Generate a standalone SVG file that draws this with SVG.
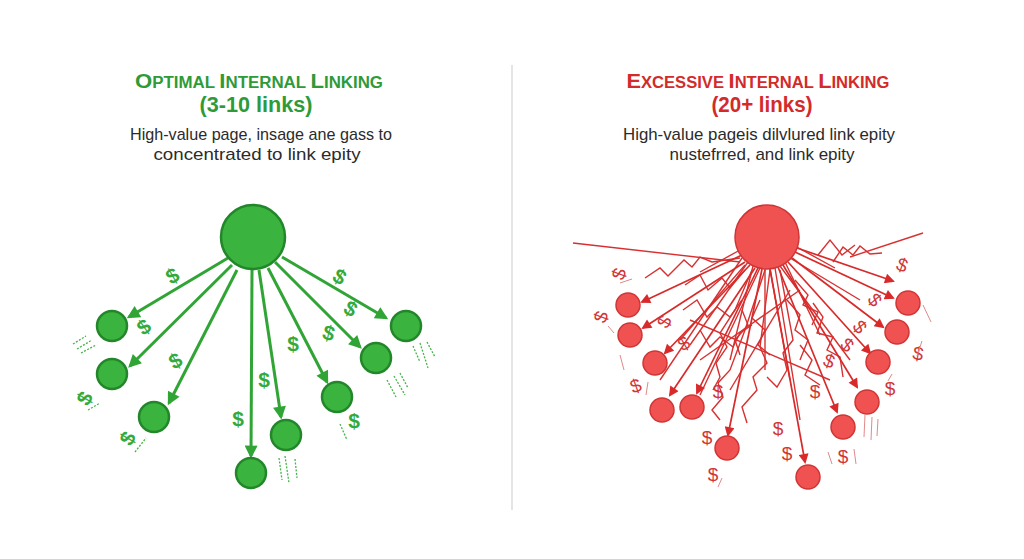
<svg xmlns="http://www.w3.org/2000/svg" width="1024" height="559" viewBox="0 0 1024 559">
<defs>
<marker id="ag" viewBox="0 0 10 10" refX="8" refY="5" markerUnits="userSpaceOnUse" markerWidth="15" markerHeight="13" orient="auto"><path d="M0,0 L10,5 L0,10 z" fill="#30a535"/></marker>
<marker id="ar" viewBox="0 0 10 10" refX="8" refY="5" markerUnits="userSpaceOnUse" markerWidth="12" markerHeight="10" orient="auto"><path d="M0,0 L10,5 L0,10 z" fill="#d82a2a"/></marker>
<style>
.tg{font-family:"Liberation Sans",Arial,sans-serif;font-weight:bold;fill:#2f9a38}
.tr{font-family:"Liberation Sans",Arial,sans-serif;font-weight:bold;fill:#d32a2a}
.sub{font-family:"Liberation Sans",Arial,sans-serif;font-size:17px;fill:#2b2b2b}
.gn{fill:#3bb33f;stroke:#22872a;stroke-width:2.5}
.rn{fill:#f05252;stroke:#d03535;stroke-width:1.5}
.ga{stroke:#30a535;stroke-width:3;fill:none;marker-end:url(#ag)}
.ra{stroke:#d82a2a;stroke-width:1.7;fill:none;marker-end:url(#ar)}
.rl{stroke:#d83030;stroke-width:1.4;fill:none;stroke-linejoin:miter}
.gd{font-family:"Liberation Sans",Arial,sans-serif;font-weight:bold;font-size:21px;fill:#33aa3a}
.rd{font-family:"Liberation Sans",Arial,sans-serif;font-size:19px;fill:#d23535}
.gs{stroke:#45b548;stroke-width:1.3;stroke-dasharray:2 1.5;fill:none}
.rs{stroke:#e08a8a;stroke-width:1;fill:none}
</style>
</defs>
<rect width="1024" height="559" fill="#ffffff"/>
<line x1="512" y1="65" x2="512" y2="510" stroke="#dddddd" stroke-width="1.5"/>

<g id="titles">
<text class="tg" x="259" y="88" text-anchor="middle" textLength="248" lengthAdjust="spacingAndGlyphs"><tspan font-size="21">O</tspan><tspan font-size="16">PTIMAL </tspan><tspan font-size="21">I</tspan><tspan font-size="16">NTERNAL </tspan><tspan font-size="21">L</tspan><tspan font-size="16">INKING</tspan></text>
<text class="tg" x="256" y="112" text-anchor="middle" font-size="22" textLength="113" lengthAdjust="spacingAndGlyphs">(3-10 links)</text>
<text class="sub" x="261" y="140" text-anchor="middle" textLength="262" lengthAdjust="spacingAndGlyphs">High-value page, insage ane gass to</text>
<text class="sub" x="257" y="160" text-anchor="middle" textLength="207" lengthAdjust="spacingAndGlyphs">concentrated to link epity</text>

<text class="tr" x="758" y="88" text-anchor="middle" textLength="263" lengthAdjust="spacingAndGlyphs"><tspan font-size="21">E</tspan><tspan font-size="16">XCESSIVE </tspan><tspan font-size="21">I</tspan><tspan font-size="16">NTERNAL </tspan><tspan font-size="21">L</tspan><tspan font-size="16">INKING</tspan></text>
<text class="tr" x="762" y="112" text-anchor="middle" font-size="22" textLength="101" lengthAdjust="spacingAndGlyphs">(20+ links)</text>
<text class="sub" x="759" y="140" text-anchor="middle" textLength="272" lengthAdjust="spacingAndGlyphs">High-value pageis dilvlured link epity</text>
<text class="sub" x="762" y="160" text-anchor="middle" textLength="185" lengthAdjust="spacingAndGlyphs">nustefrred, and link epity</text>
</g>

<g id="connectors">
<line class="ga" x1="228" y1="258" x2="129" y2="317"/>
<line class="ga" x1="232" y1="265" x2="130" y2="366"/>
<line class="ga" x1="237" y1="270" x2="169" y2="403"/>
<line class="ga" x1="252" y1="270" x2="251" y2="456"/>
<line class="ga" x1="259" y1="270" x2="281" y2="417"/>
<line class="ga" x1="268" y1="268" x2="327" y2="382"/>
<line class="ga" x1="275" y1="262" x2="360" y2="347"/>
<line class="ga" x1="282" y1="257" x2="386" y2="318"/>

<polyline class="rl" points="573,243 740,262"/>
<polyline class="rl" points="923,233 850,257"/>
<polyline class="rl" points="645,278 660,268 668,276 684,260 692,267 700,257 712,262 740,258"/>
<polyline class="rl" points="833,262 843,247 853,255 860,246 870,254 882,253"/>
<polyline class="rl" points="818,255 830,240 842,255 855,245"/>
<polyline class="rl" points="713,390 720,377 716,363 727,347 720,333 735,310 752,270"/>
<polyline class="rl" points="720,420 712,410 723,397 718,383 730,370 745,330 765,270"/>
<polyline class="rl" points="747,423 742,407 757,390 753,377 767,363 760,347 770,270"/>
<polyline class="rl" points="767,377 777,387 787,370 783,353 793,340 780,270"/>
<polyline class="rl" points="813,303 823,317 817,333 833,337 827,350 840,357 843,377"/>
<polyline class="rl" points="683,310 697,300 707,317 717,307 730,317 742,300"/>
<polyline class="rl" points="700,330 710,347 720,337 733,347 740,333 752,325"/>
<polyline class="rl" points="787,300 800,315 795,330 808,340 800,360"/>
<polyline class="rl" points="760,300 752,318 765,330 758,345 770,355"/>
<polyline class="rl" points="740,355 735,340 748,325 742,310"/>
<polyline class="rl" points="800,345 812,360 805,375 820,385"/>
<polyline class="rl" points="685,285 700,275 708,290 722,278 730,288 745,270"/>
<polyline class="rl" points="795,280 808,295 803,305 818,312 812,325"/>
<line class="rl" x1="748" y1="262" x2="690" y2="345"/>
<line class="rl" x1="760" y1="268" x2="700" y2="395"/>
<line class="rl" x1="775" y1="268" x2="800" y2="420"/>
<line class="rl" x1="780" y1="266" x2="850" y2="360"/>
<line class="rl" x1="742" y1="258" x2="660" y2="380"/>
<line class="rl" x1="790" y1="258" x2="860" y2="300"/>
<line class="rl" x1="700" y1="360" x2="800" y2="290"/>
<line class="rl" x1="690" y1="320" x2="830" y2="380"/>
<line class="rl" x1="730" y1="390" x2="790" y2="290"/>
<line class="rl" x1="765" y1="269" x2="765" y2="370"/>
<line class="rl" x1="753" y1="266" x2="730" y2="360"/>
<line class="rl" x1="785" y1="262" x2="820" y2="335"/>
<line class="rl" x1="740" y1="250" x2="700" y2="272"/>
<line class="rl" x1="795" y1="246" x2="835" y2="268"/>
<line class="rl" x1="770" y1="269" x2="790" y2="380"/>
<line class="rl" x1="745" y1="265" x2="680" y2="340"/>

<line class="ra" x1="742" y1="255" x2="642" y2="302"/>
<line class="ra" x1="745" y1="262" x2="643" y2="328"/>
<line class="ra" x1="750" y1="265" x2="665" y2="353"/>
<line class="ra" x1="755" y1="268" x2="670" y2="395"/>
<line class="ra" x1="758" y1="268" x2="697" y2="393"/>
<line class="ra" x1="762" y1="269" x2="728" y2="435"/>
<line class="ra" x1="770" y1="269" x2="805" y2="462"/>
<line class="ra" x1="778" y1="267" x2="837" y2="412"/>
<line class="ra" x1="783" y1="265" x2="857" y2="387"/>
<line class="ra" x1="788" y1="262" x2="870" y2="353"/>
<line class="ra" x1="792" y1="258" x2="883" y2="327"/>
<line class="ra" x1="795" y1="252" x2="893" y2="298"/>
<line class="ra" x1="797" y1="248" x2="893" y2="281"/>
</g>

<g id="green-hub"><circle class="gn" cx="253" cy="237" r="32"/></g>
<g id="green-n1"><circle class="gn" cx="112" cy="326" r="15"/></g>
<g id="green-n2"><circle class="gn" cx="112" cy="374" r="15"/></g>
<g id="green-n3"><circle class="gn" cx="154" cy="417" r="15"/></g>
<g id="green-n4"><circle class="gn" cx="251" cy="473" r="15"/></g>
<g id="green-n5"><circle class="gn" cx="286" cy="435" r="15"/></g>
<g id="green-n6"><circle class="gn" cx="337" cy="397" r="15"/></g>
<g id="green-n7"><circle class="gn" cx="376" cy="358" r="15"/></g>
<g id="green-n8"><circle class="gn" cx="406" cy="326" r="15"/></g>

<g id="red-hub"><circle class="rn" cx="767" cy="237" r="32"/></g>
<g id="red-n1"><circle class="rn" cx="628" cy="305" r="12"/></g>
<g id="red-n2"><circle class="rn" cx="630" cy="335" r="12"/></g>
<g id="red-n3"><circle class="rn" cx="655" cy="363" r="12"/></g>
<g id="red-n4"><circle class="rn" cx="662" cy="410" r="12"/></g>
<g id="red-n5"><circle class="rn" cx="692" cy="407" r="12"/></g>
<g id="red-n6"><circle class="rn" cx="727" cy="448" r="12"/></g>
<g id="red-n7"><circle class="rn" cx="808" cy="477" r="12"/></g>
<g id="red-n8"><circle class="rn" cx="843" cy="427" r="12"/></g>
<g id="red-n9"><circle class="rn" cx="867" cy="402" r="12"/></g>
<g id="red-n10"><circle class="rn" cx="878" cy="362" r="12"/></g>
<g id="red-n11"><circle class="rn" cx="897" cy="332" r="12"/></g>
<g id="red-n12"><circle class="rn" cx="908" cy="303" r="12"/></g>

<g id="green-dollars">
<text class="gd" transform="translate(176,282) rotate(-30)" text-anchor="middle">$</text>
<text class="gd" transform="translate(148,333) rotate(-35)" text-anchor="middle">$</text>
<text class="gd" transform="translate(179,367) rotate(-30)" text-anchor="middle">$</text>
<text class="gd" transform="translate(91,402) rotate(-60)" text-anchor="middle">$</text>
<text class="gd" transform="translate(134,442) rotate(-60)" text-anchor="middle">$</text>
<text class="gd" x="264" y="387" text-anchor="middle">$</text>
<text class="gd" x="238" y="426" text-anchor="middle">$</text>
<text class="gd" x="293" y="351" text-anchor="middle">$</text>
<text class="gd" transform="translate(327,340) rotate(15)" text-anchor="middle">$</text>
<text class="gd" transform="translate(347,315) rotate(30)" text-anchor="middle">$</text>
<text class="gd" transform="translate(336,283) rotate(30)" text-anchor="middle">$</text>
<text class="gd" x="354" y="428" text-anchor="middle">$</text>
</g>
<g id="green-speed">
<path class="gs" d="M73,344 L86,336 M77,349 L92,340 M81,353 L96,345"/>
<path class="gs" d="M88,410 L100,403"/>
<path class="gs" d="M135,452 L146,438"/>
<path class="gs" d="M279,458 L282,480 M285,456 L289,483 M295,459 L297,478"/>
<path class="gs" d="M340,424 L347,440"/>
<path class="gs" d="M387,380 L396,397 M394,376 L405,395 M400,373 L408,388"/>
<path class="gs" d="M413,346 L420,362 M420,343 L428,368 M427,342 L435,357"/>
</g>

<g id="red-dollars">
<text class="rd" transform="translate(625,276) rotate(-70)" text-anchor="middle">$</text>
<text class="rd" transform="translate(607,319) rotate(-70)" text-anchor="middle">$</text>
<text class="rd" transform="translate(670,325) rotate(-60)" text-anchor="middle">$</text>
<text class="rd" transform="translate(687,349) rotate(-30)" text-anchor="middle">$</text>
<text class="rd" transform="translate(638,392) rotate(-20)" text-anchor="middle">$</text>
<text class="rd" x="718" y="398" text-anchor="middle">$</text>
<text class="rd" x="707" y="444" text-anchor="middle">$</text>
<text class="rd" x="713" y="481" text-anchor="middle">$</text>
<text class="rd" x="778" y="435" text-anchor="middle">$</text>
<text class="rd" x="787" y="460" text-anchor="middle">$</text>
<text class="rd" x="815" y="398" text-anchor="middle">$</text>
<text class="rd" transform="translate(827,367) rotate(20)" text-anchor="middle">$</text>
<text class="rd" transform="translate(843,350) rotate(40)" text-anchor="middle">$</text>
<text class="rd" transform="translate(855,331) rotate(50)" text-anchor="middle">$</text>
<text class="rd" transform="translate(870,304) rotate(50)" text-anchor="middle">$</text>
<text class="rd" transform="translate(900,271) rotate(20)" text-anchor="middle">$</text>
<text class="rd" transform="translate(917,360) rotate(10)" text-anchor="middle">$</text>
<text class="rd" x="890" y="395" text-anchor="middle">$</text>
<text class="rd" x="843" y="463" text-anchor="middle">$</text>
</g>
<g id="red-speed">
<path class="rs" d="M620,283 L632,279 M608,326 L614,333 M620,355 L624,370 M648,382 L646,395 M722,478 L718,487 M828,452 L832,464 M854,449 L856,464 M865,415 L864,437 M872,417 L871,440 M878,419 L877,436 M923,305 L931,322 M922,341 L917,356 M888,381 L892,374"/>
</g>
</svg>
